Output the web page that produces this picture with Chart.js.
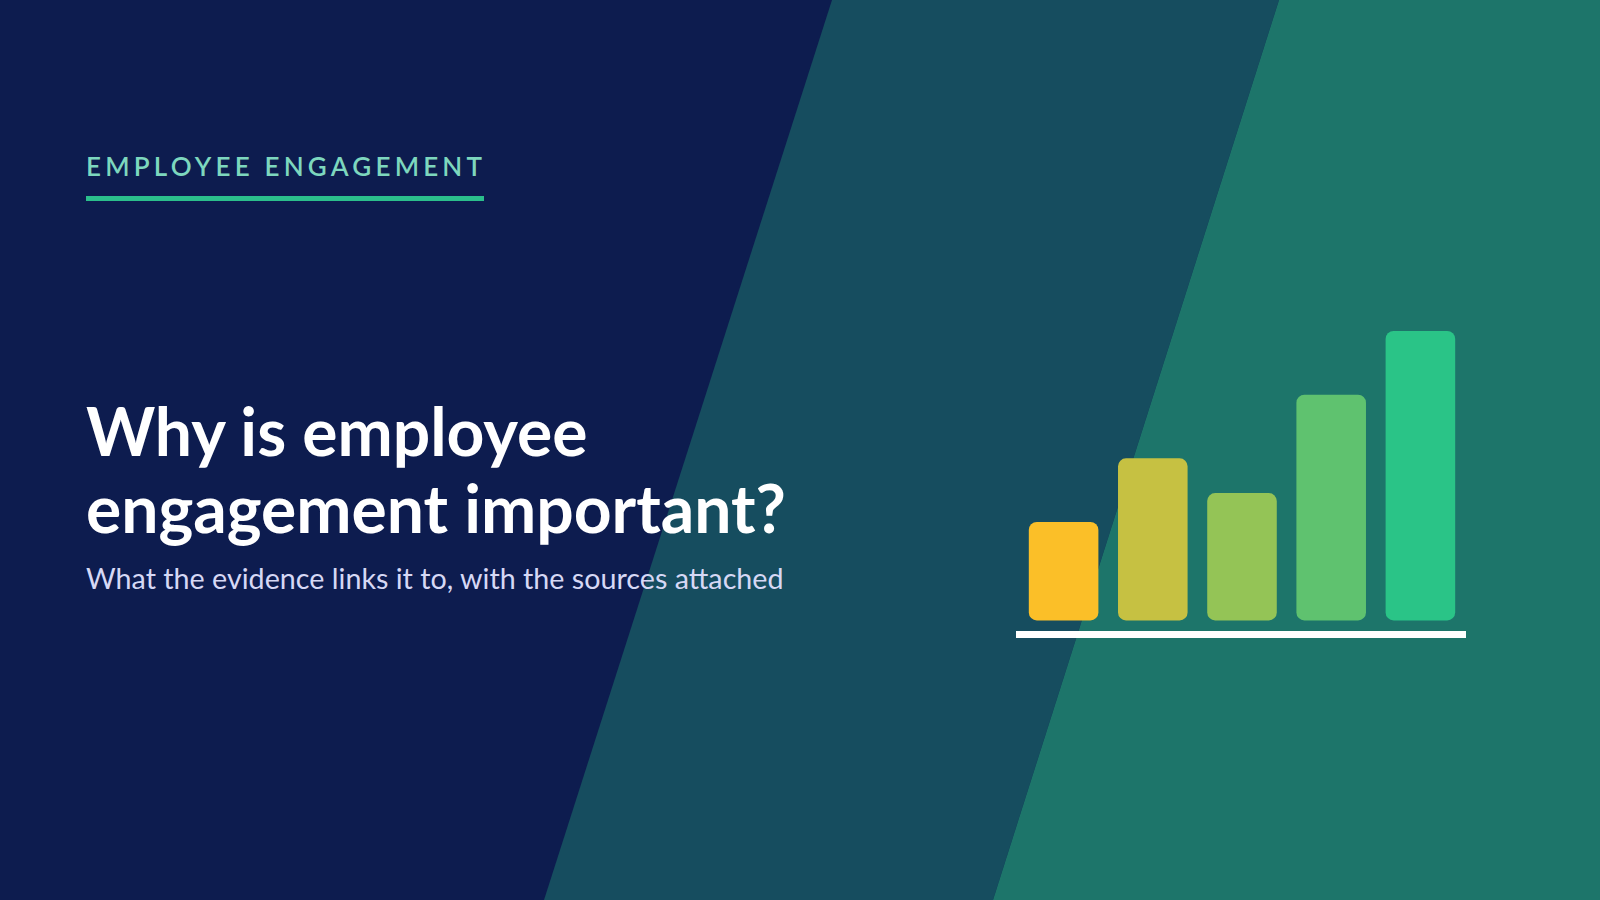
<!DOCTYPE html>
<html>
<head>
<meta charset="utf-8">
<script src="https://cdn.jsdelivr.net/npm/chart.js@4.4.1/dist/chart.umd.min.js"></script>
<style>
  html, body { margin: 0; padding: 0; }
  body { width: 1600px; height: 900px; overflow: hidden; position: relative; background: #0d1c4f; font-family: Lato, "Noto Sans", sans-serif; }
  .band { position: absolute; left: 0; top: 0; width: 1600px; height: 900px; }
  .band-mid { background: #164d5f; clip-path: polygon(832px 0, 1279px 0, 993px 900px, 544px 900px); }
  .band-right { background: #1d756a; clip-path: polygon(1279px 0, 1600px 0, 1600px 900px, 993px 900px); }
  .kicker { position: absolute; left: 86px; top: 151px; font-size: 26px; line-height: 30px; font-weight: 600; letter-spacing: 4.2px; color: #7dd7be; white-space: nowrap; }
  .rule { position: absolute; left: 86px; top: 196px; width: 398px; height: 5px; background: #2bbf8c; }
  .title { position: absolute; left: 86px; top: 392px; font-size: 66px; line-height: 77px; font-weight: 700; color: #ffffff; white-space: nowrap; }
  .subtitle { position: absolute; left: 86px; top: 561px; font-size: 28.7px; line-height: 34px; font-weight: 400; color: #d6d8f5; white-space: nowrap; }
  #chartBox { position: absolute; left: 995px; top: 300px; width: 500px; height: 360px; }
</style>
</head>
<body>
<div class="band band-mid"></div>
<div class="band band-right"></div>

<div class="kicker">EMPLOYEE ENGAGEMENT</div>
<div class="rule"></div>
<div class="title">Why is employee<br>engagement important?</div>
<div class="subtitle">What the evidence links it to, with the sources attached</div>

<div id="chartBox"><canvas id="barChart" width="500" height="360"></canvas></div>

<script>
// Значения столбцов (читаются с картинки, самый высокий = 100)
const categories = ['A', 'B', 'C', 'D', 'E'];
const values = [34, 56, 44, 78, 100];
const barColors = ['#fbbf28', '#c6c142', '#94c456', '#5fc26f', '#2ac487'];

const ctx = document.getElementById('barChart').getContext('2d');
new Chart(ctx, {
  type: 'bar',
  data: {
    labels: categories,
    datasets: [{
      data: values,
      backgroundColor: barColors,
      borderWidth: 0,
      borderRadius: 8,
      borderSkipped: false,
      barPercentage: 0.78,
      categoryPercentage: 1
    }]
  },
  options: {
    responsive: false,
    animation: false,
    layout: { padding: { left: 24, right: 30, top: 31, bottom: 26 } },
    plugins: { legend: { display: false }, tooltip: { enabled: false } },
    scales: {
      x: {
        grid: { display: false, drawTicks: false },
        ticks: { display: false },
        border: { display: true, color: '#ffffff', width: 7 }
      },
      y: {
        display: false,
        min: -4.7,
        max: 100
      }
    }
  }
});
</script>
</body>
</html>
